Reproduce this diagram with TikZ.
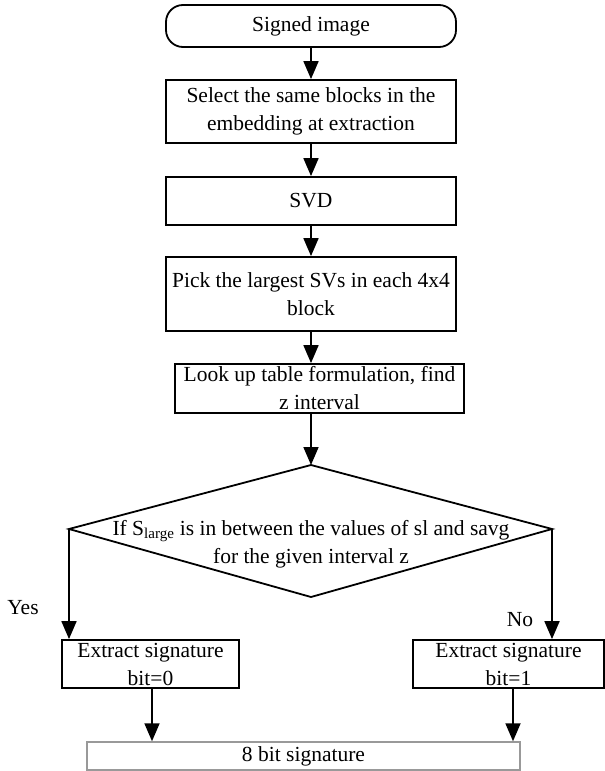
\documentclass[tikz,border=0pt]{standalone}
\usepackage{fontspec}
\setmainfont{Liberation Serif}
\usetikzlibrary{arrows.meta}
\begin{document}
\begin{tikzpicture}[x=1pt,y=-1pt,
  txt/.style={font=\fontsize{21.5}{28}\selectfont, align=center, inner sep=0pt},
  box/.style={txt, draw=black, line width=1.8pt, minimum width=#1},
  term/.style={box=#1, rounded corners=17pt},
  arr/.style={line width=1.8pt, -{Triangle[length=18pt,width=15pt]}},
  line/.style={line width=1.8pt}]
\useasboundingbox (0,0) rectangle (605,771);

% process boxes
\node[term=290, minimum height=42] (start) at (311,26) {Signed image};
\node[box=290, minimum height=63] (sel) at (311,111.5) {Select the same blocks in the\\embedding at extraction};
\node[box=290, minimum height=48] (svd) at (311,201) {SVD};
\node[box=290, minimum height=74] (pick) at (311,294) {Pick the largest SVs in each 4x4\\block};
\node[box=289, minimum height=49] (look) at (319.5,388.5) {Look up table formulation, find\\z interval};

% decision
\coordinate (dt) at (311,465);
\coordinate (dl) at (69,529);
\coordinate (dr) at (552,529);
\coordinate (db) at (311,597);
\draw[line] (dt) -- (dr) -- (db) -- (dl) -- cycle;
\node[txt] (cond) at (311,544) {If S\textsubscript{large} is in between the values of sl and savg\\for the given interval z};

% outcomes
\node[box=177, minimum height=48] (ext0) at (150.5,664) {Extract signature\\bit=0};
\node[box=191, minimum height=48] (ext1) at (508.5,664) {Extract signature\\bit=1};
\node[txt, draw=black!40, line width=1.5pt, minimum width=433, minimum height=28] (sig) at (303.5,756) {8 bit signature};

\node[txt] (yes) at (23,608) {Yes};
\node[txt] (no) at (520,620) {No};

% connectors
\draw[arr] (start) -- (sel);
\draw[arr] (sel) -- (svd);
\draw[arr] (svd) -- (pick);
\draw[arr] (pick.south) -- (pick.south |- look.north);
\draw[arr] (pick.south |- look.south) -- (dt);
\draw[arr] (dl) -- (dl |- ext0.north);
\draw[arr] (dr) -- (dr |- ext1.north);
\draw[arr] ([xshift=1.5]ext0.south) -- ([xshift=1.5]ext0.south |- sig.north);
\draw[arr] ([xshift=4.5]ext1.south) -- ([xshift=4.5]ext1.south |- sig.north);
\end{tikzpicture}
\end{document}
